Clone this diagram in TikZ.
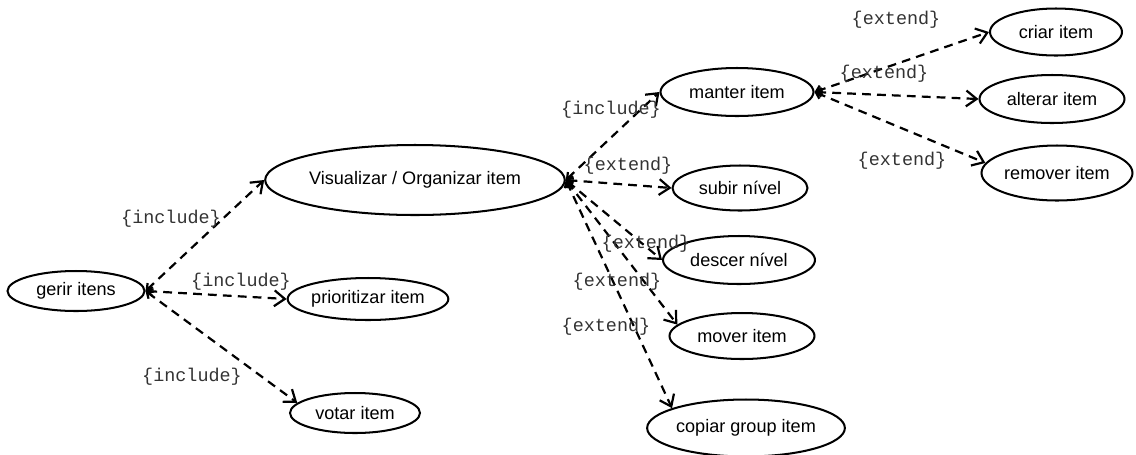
\documentclass[tikz,border=0pt]{standalone}
\usepackage{fontspec}
\setmainfont{Liberation Sans}
\setmonofont{Liberation Mono}
\usetikzlibrary{shapes.geometric,arrows.meta}
\begin{document}
\begin{tikzpicture}[x=0.02cm,y=-0.02cm,
  usecase/.style={ellipse,draw,line width=1.15pt,inner sep=0pt,
    font=\fontsize{10.3}{12}\selectfont},
  sz/.style 2 args={minimum width=#1*0.02cm,minimum height=#2*0.02cm},
  dep/.style={line width=1.25pt,dash pattern=on 5pt off 3.5pt,
    {Straight Barb[length=3pt,width=5pt]}-{Straight Barb[length=6pt,width=9pt]}},
  stereo/.style={font=\ttfamily\fontsize{10.5}{12}\selectfont,text=black!80,inner sep=0pt}]
\useasboundingbox (0,0) rectangle (1136,454);

% use cases
\node[usecase,sz={137}{40}] (gerir) at (76,291) {gerir itens};
\node[usecase,sz={265}{70}] (vis) at (415,180) {Visualizar / Organizar item};
\node[usecase,sz={145}{42}] (prio) at (368,299) {prioritizar item};
\node[usecase,sz={130}{40}] (votar) at (355,413) {votar item};
\node[usecase,sz={153}{48}] (manter) at (737,92) {manter item};
\node[usecase,sz={135}{45}] (subir) at (740,188) {subir nível};
\node[usecase,sz={152}{48}] (descer) at (739,260) {descer nível};
\node[usecase,sz={145}{46}] (mover) at (742,336) {mover item};
\node[usecase,sz={197}{57}] (copiar) at (746,428) {copiar group item};
\node[usecase,sz={132}{47}] (criar) at (1056,32) {criar item};
\node[usecase,sz={145}{48}] (alterar) at (1052,99) {alterar item};
\node[usecase,sz={151}{55}] (remover) at (1057,173) {remover item};

% dependencies
\draw[dep] (gerir.east) -- (vis.west);
\draw[dep] (gerir.east) -- (prio.west);
\draw[dep] (gerir.east) -- (votar.170);
\draw[dep] (vis.east) -- (manter.west);
\draw[dep] (vis.east) -- (subir.west);
\draw[dep] (vis.east) -- (descer.west);
\draw[dep] (vis.east) -- (mover.170);
\draw[dep] (vis.east) -- (copiar.165);
\draw[dep] (manter.east) -- (criar.west);
\draw[dep] (manter.east) -- (alterar.west);
\draw[dep] (manter.east) -- (remover.172);

% stereotype labels
\node[stereo] (l1) at (171,219) {\{include\}};
\node[stereo] (l2) at (241,282) {\{include\}};
\node[stereo] (l3) at (192,377) {\{include\}};
\node[stereo] (l4) at (611,110) {\{include\}};
\node[stereo] (l5) at (628,166) {\{extend\}};
\node[stereo] (l6) at (646,244) {\{extend\}};
\node[stereo] (l7) at (617,282) {\{extend\}};
\node[stereo] (l8) at (606,327) {\{extend\}};
\node[stereo] (l9) at (896,20) {\{extend\}};
\node[stereo] (l10) at (884,74) {\{extend\}};
\node[stereo] (l11) at (902,161) {\{extend\}};
\end{tikzpicture}
\end{document}
